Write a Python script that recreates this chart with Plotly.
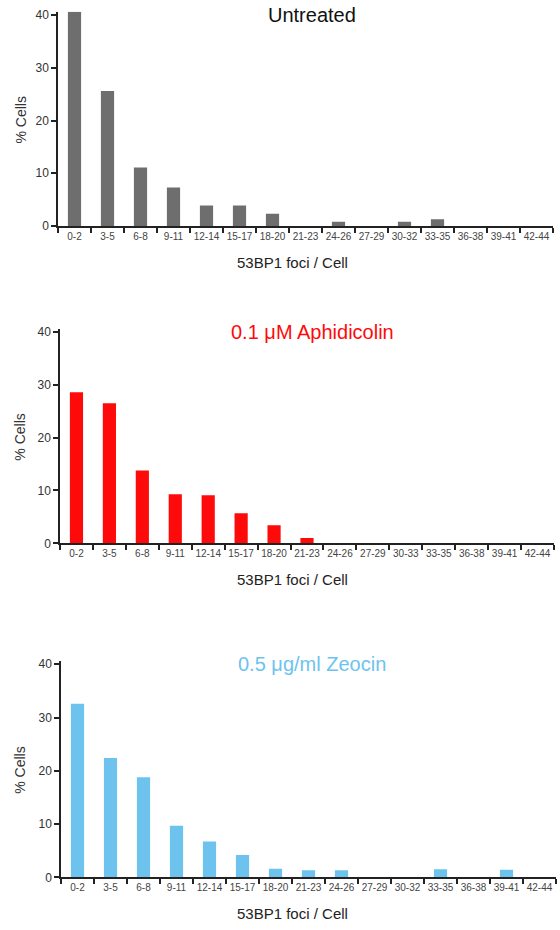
import plotly.graph_objects as go

categories_a = ["0-2", "3-5", "6-8", "9-11", "12-14", "15-17", "18-20", "21-23",
                "24-26", "27-29", "30-32", "33-35", "36-38", "39-41", "42-44"]
categories_b = ["0-2", "3-5", "6-8", "9-11", "12-14", "15-17", "18-20", "21-23",
                "24-26", "27-29", "30-33", "33-35", "36-38", "39-41", "42-44"]

untreated = [40.6, 25.6, 11.1, 7.3, 3.9, 3.9, 2.3, 0, 0.8, 0, 0.8, 1.3, 0, 0, 0]
aphidicolin = [28.6, 26.5, 13.8, 9.3, 9.1, 5.7, 3.4, 1.0, 0, 0, 0, 0, 0, 0, 0]
zeocin = [32.6, 22.4, 18.8, 9.7, 6.7, 4.2, 1.6, 1.3, 1.3, 0, 0, 1.5, 0, 1.4, 0]

titles = ["Untreated", "0.1 \u03bcM Aphidicolin", "0.5 \u03bcg/ml Zeocin"]
colors = ["#6e6e6e", "#ff0a0a", "#6ec3ee"]
title_colors = ["#111111", "#ff0a0a", "#6ec3ee"]
y_ticks = [0, 10, 20, 30, 40]

W, H = 560, 930
# pixel geometry of each panel: (x_left, x_right, y_bottom, px_per_unit)
panels = [
    (58, 553, 226.0, 5.275),
    (60, 554, 543.3, 5.283),
    (61, 556, 877.3, 5.325),
]
ymax = 40.6

series = [untreated, aphidicolin, zeocin]
cats = [categories_a, categories_b, categories_a]

fig = go.Figure()
layout = {}
annotations = []
font_family = "Liberation Sans, Arial, sans-serif"

for i, (vals, cat, col, title) in enumerate(zip(series, cats, colors, titles)):
    n = "" if i == 0 else str(i + 1)
    xl, xr, yb, ppu = panels[i]
    ytop = yb - ymax * ppu
    fig.add_trace(go.Bar(x=cat, y=vals, marker=dict(color=col, line_width=0),
                         width=0.4, xaxis="x" + n, yaxis="y" + n, showlegend=False))
    layout["xaxis" + n] = dict(
        domain=[xl / W, xr / W], anchor="y" + n, type="category",
        categoryorder="array", categoryarray=cat, automargin=False, tickangle=0,
        showline=True, linecolor="#222", linewidth=1.5,
        ticks="outside", tickson="boundaries", ticklen=5, tickwidth=1.5, tickcolor="#222",
        tickfont=dict(family=font_family, size=10, color="#444"),
        showgrid=False, zeroline=False, fixedrange=True,
    )
    layout["yaxis" + n] = dict(
        domain=[1 - yb / H, 1 - ytop / H], anchor="x" + n, range=[0, ymax],
        automargin=False,
        tickvals=y_ticks, showline=True, linecolor="#222", linewidth=1.5,
        ticks="outside", ticklen=5, tickwidth=1.5, tickcolor="#222",
        tickfont=dict(family=font_family, size=12, color="#333"),
        showgrid=False, zeroline=False, fixedrange=True,
    )
    # panel title
    annotations.append(dict(text=title, x=312 / W, y=1 - (yb - 40 * ppu) / H,
                            xref="paper", yref="paper", xanchor="center", yanchor="middle",
                            showarrow=False,
                            font=dict(family=font_family, size=20, color=title_colors[i])))
    # y title
    annotations.append(dict(text="% Cells", x=20 / W, y=1 - (yb - 20 * ppu) / H,
                            xref="paper", yref="paper", xanchor="center", yanchor="middle",
                            textangle=-90, showarrow=False,
                            font=dict(family=font_family, size=14, color="#333")))
    # x title
    annotations.append(dict(text="53BP1 foci / Cell", x=292 / W, y=1 - (yb + 36) / H,
                            xref="paper", yref="paper", xanchor="center", yanchor="middle",
                            showarrow=False, font=dict(family=font_family, size=15, color="#222")))

fig.update_layout(
    width=W, height=H, margin=dict(l=0, r=0, t=0, b=0, autoexpand=False),
    paper_bgcolor="white", plot_bgcolor="white",
    annotations=annotations, bargap=0.6, **layout,
)
fig.write_html("out.html", config={"displayModeBar": False},
               post_script="document.body.style.margin='0';document.body.style.overflow='hidden';")
